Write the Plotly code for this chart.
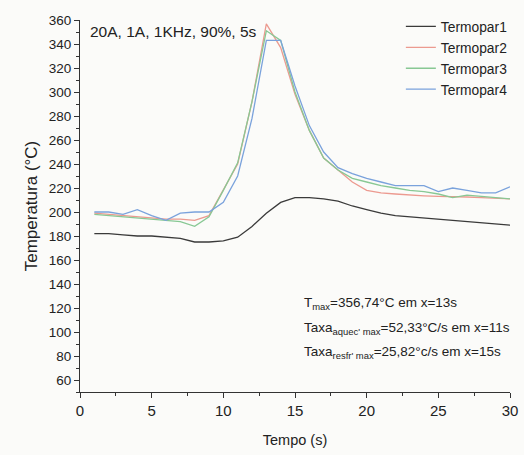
import plotly.graph_objects as go

# Time samples (s)
tempo = list(range(1, 31))

# Thermocouple readings (°C)
termopar1 = [182, 182, 181, 180, 180, 179, 178, 175, 175, 176,
             179, 188, 199, 208, 212, 212, 211, 209, 205, 202,
             199, 197, 196, 195, 194, 193, 192, 191, 190, 189]
termopar2 = [199, 198, 197, 196, 195, 194, 194, 193, 197, 218,
             240, 292, 356.74, 337, 298, 268, 245, 235, 225, 218,
             216, 215, 214, 213.5, 213, 213, 212.5, 212, 211.5, 211]
termopar3 = [198, 197, 196, 195, 194, 193, 192, 188, 196, 218,
             241, 292, 351, 343, 300, 268, 245, 235, 228, 225,
             222, 220, 218, 217, 215, 212, 214, 213, 212, 211]
termopar4 = [200, 200, 198, 202, 197, 193, 199, 200, 200, 208,
             230, 278, 343, 343, 305, 272, 250, 237, 232, 228,
             225, 222, 222, 222, 217, 220, 218, 216, 216, 221]

series_names = ["Termopar1", "Termopar2", "Termopar3", "Termopar4"]
series_values = [termopar1, termopar2, termopar3, termopar4]
series_colors = ["#3a3a3a", "#ec9a90", "#88c894", "#7aa2dc"]

y_ticks = list(range(60, 361, 20))
x_ticks = list(range(0, 31, 5))

fig = go.Figure()
for name, vals, col in zip(series_names, series_values, series_colors):
    fig.add_trace(go.Scatter(x=tempo, y=vals, mode="lines", name=name,
                             line=dict(color=col, width=1.3)))

font_family = "Liberation Sans, Arial, sans-serif"

fig.update_layout(
    width=524, height=455,
    margin=dict(l=80, r=14, t=20, b=63, autoexpand=False),
    paper_bgcolor="#fbfbf9", plot_bgcolor="#fbfbf9",
    font=dict(family=font_family, size=13, color="#222"),
    showlegend=True,
    legend=dict(x=0.765, y=0.976, xref="container", yref="container",
                xanchor="left", yanchor="top",
                bgcolor="rgba(0,0,0,0)", font=dict(size=13.8),
                tracegroupgap=0),
    xaxis=dict(range=[0, 30], tickvals=x_ticks, showgrid=False, zeroline=False,
               showline=True, linecolor="#333", linewidth=1,
               ticks="outside", ticklen=5, tickcolor="#333",
               minor=dict(dtick=2.5, tick0=0, ticks="outside", ticklen=3, tickcolor="#333"),
               title=dict(text="Tempo (s)", font=dict(size=14.5), standoff=16),
               tickfont=dict(size=15)),
    yaxis=dict(range=[50, 360], tickvals=y_ticks, showgrid=False, zeroline=False,
               showline=True, linecolor="#333", linewidth=1,
               ticks="outside", ticklen=5, tickcolor="#333",
               minor=dict(dtick=10, tick0=50, ticks="outside", ticklen=3, tickcolor="#333"),
               title=dict(text="Temperatura (°C)", font=dict(size=17), standoff=6),
               tickfont=dict(size=13.5)),
)

fig.add_annotation(x=0.018, y=0.998, xref="paper", yref="paper",
                   xanchor="left", yanchor="top", showarrow=False,
                   text="20A, 1A, 1KHz, 90%, 5s", font=dict(size=15.5))

notes = [
    "T<sub>max</sub>=356,74°C em x=13s",
    "Taxa<sub>aquec' max</sub>=52,33°C/s em x=11s",
    "Taxa<sub>resfr' max</sub>=25,82°c/s em x=15s",
]
for i, t in enumerate(notes):
    fig.add_annotation(x=0.516, y=0.237 - i * 0.066, xref="paper", yref="paper",
                       xanchor="left", yanchor="middle", showarrow=False,
                       text=t, font=dict(size=13.5))

fig.write_html("out.html")
